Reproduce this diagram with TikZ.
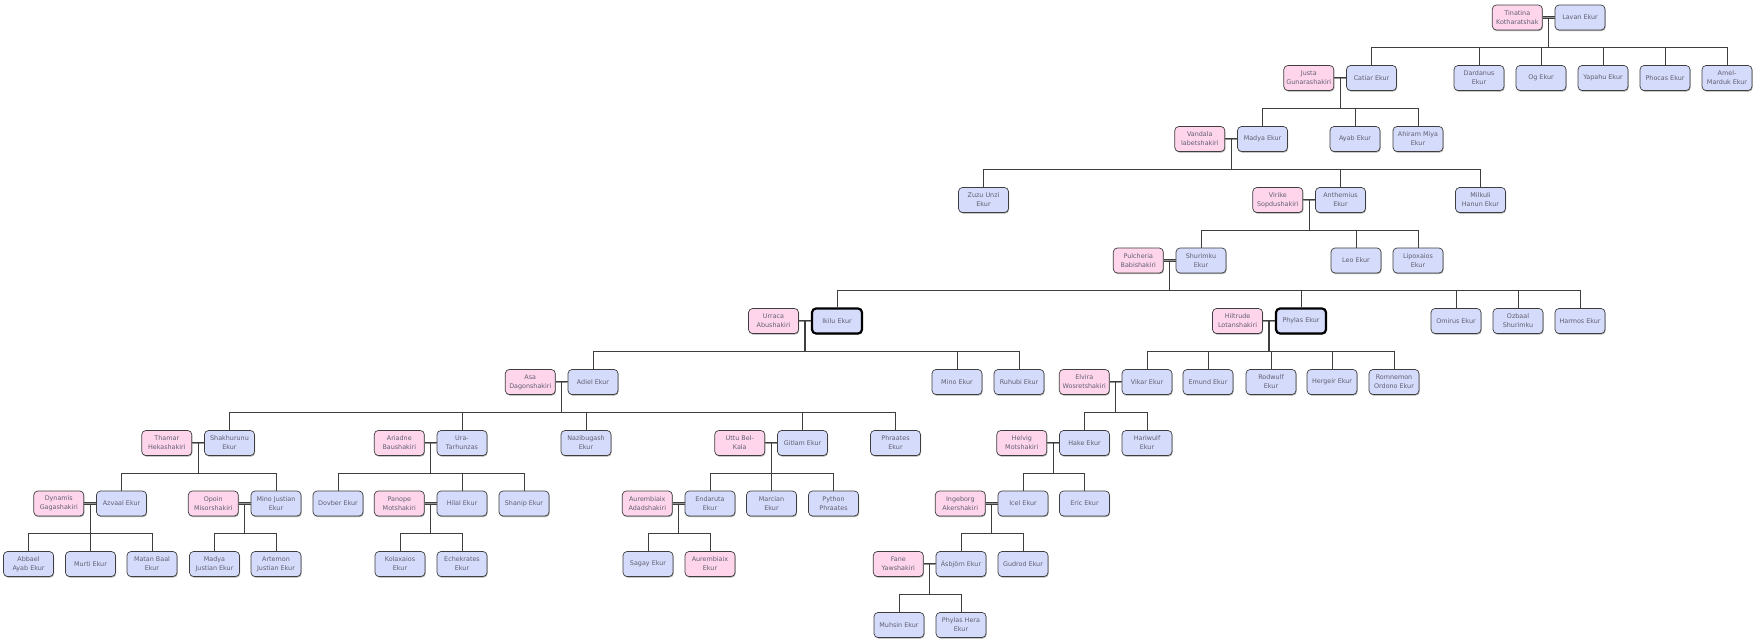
\documentclass[tikz,border=0pt]{standalone}
\usepackage{fontspec}
\setmainfont{DejaVu Sans}
\usetikzlibrary{positioning,calc,shadows}

\definecolor{ekurblue}{RGB}{213,219,250}
\definecolor{wifepink}{RGB}{255,213,236}
\definecolor{linegray}{RGB}{62,62,62}
\definecolor{namegray}{RGB}{95,95,112}

\tikzset{
  person/.style={draw=linegray, line width=0.7pt, rounded corners=4pt,
    minimum width=50pt, minimum height=25pt, inner sep=1pt, align=center,
    text=namegray, font=\fontsize{6.4}{9.2}\selectfont,
    drop shadow={shadow xshift=0.6pt, shadow yshift=-1.1pt, fill=black!65}},
  ekur/.style={person, fill=ekurblue},
  pinkbox/.style={person, fill=wifepink},
  wife/.style={pinkbox, left=12pt of #1},
  hilite/.style={ekur, draw=black, line width=2.2pt},
  wed/.style={draw=linegray, line width=0.8pt, double=linegray!55, double distance=0.9pt},
  stem/.style={draw=linegray, line width=1.3pt},
  kin/.style={draw=linegray, line width=0.9pt},
}

\begin{document}
\begin{tikzpicture}[x=1pt, y=-1pt]
    \useasboundingbox (0,0) rectangle (1760,643);
    \fill[white] (0,0) rectangle (1760,643);

    % generation 1
    \node[ekur] (lavan) at (1580,17.5) {Lavan Ekur};
    \node[wife=lavan] (tina) {Tinatina\\Kotharatshak};
    % generation 2
    \node[ekur] (catiar) at (1371.5,78) {Catiar Ekur};
    \node[wife=catiar] (justa) {Justa\\Gunarashakiri};
    \node[ekur] (dardanus) at (1479,78) {Dardanus\\Ekur};
    \node[ekur] (og) at (1541,78) {Og Ekur};
    \node[ekur] (yapahu) at (1603,78) {Yapahu Ekur};
    \node[ekur] (phocas) at (1665,78) {Phocas Ekur};
    \node[ekur] (amel) at (1727,78) {Amel-\\Marduk Ekur};
    % generation 3
    \node[ekur] (madya) at (1262.5,139) {Madya Ekur};
    \node[wife=madya] (vandala) {Vandala\\Iabetshakiri};
    \node[ekur] (ayab) at (1355,139) {Ayab Ekur};
    \node[ekur] (ahiram) at (1418,139) {Ahiram Miya\\Ekur};
    % generation 4
    \node[ekur] (zuzu) at (983.5,200) {Zuzu Unzi\\Ekur};
    \node[ekur] (anthemius) at (1340.5,200) {Anthemius\\Ekur};
    \node[wife=anthemius] (virike) {Virike\\Sopdushakiri};
    \node[ekur] (milkuli) at (1480.5,200) {Milkuli\\Hanun Ekur};
    % generation 5
    \node[ekur] (shurimku) at (1201,260.5) {Shurimku\\Ekur};
    \node[wife=shurimku] (pulcheria) {Pulcheria\\Babishakiri};
    \node[ekur] (leo) at (1356,260.5) {Leo Ekur};
    \node[ekur] (lipoxaios) at (1418,260.5) {Lipoxaios\\Ekur};
    % generation 6
    \node[hilite] (ikilu) at (837,321) {Ikilu Ekur};
    \node[wife=ikilu] (urraca) {Urraca\\Abushakiri};
    \node[hilite] (phylas) at (1301,321) {Phylas Ekur};
    \node[wife=phylas] (hiltrude) {Hiltrude\\Lotanshakiri};
    \node[ekur] (omirus) at (1456,321) {Omirus Ekur};
    \node[ekur] (ozbaal) at (1518,321) {Ozbaal\\Shurimku};
    \node[ekur] (harmos) at (1580,321) {Harmos Ekur};
    % generation 7
    \node[ekur] (adiel) at (593,382) {Adiel Ekur};
    \node[wife=adiel] (asa) {Asa\\Dagonshakiri};
    \node[ekur] (mino) at (957,382) {Mino Ekur};
    \node[ekur] (ruhubi) at (1019,382) {Ruhubi Ekur};
    \node[ekur] (vikar) at (1147,382) {Vikar Ekur};
    \node[wife=vikar] (elvira) {Elvira\\Wosretshakiri};
    \node[ekur] (emund) at (1208,382) {Emund Ekur};
    \node[ekur] (rodwulf) at (1271,382) {Rodwulf\\Ekur};
    \node[ekur] (hergeir) at (1332,382) {Hergeir Ekur};
    \node[ekur] (romnemon) at (1394,382) {Romnemon\\Ordono Ekur};
    % generation 8
    \node[ekur] (shakhurunu) at (229.5,443) {Shakhurunu\\Ekur};
    \node[wife=shakhurunu] (thamar) {Thamar\\Hekashakiri};
    \node[ekur] (ura) at (462,443) {Ura-\\Tarhunzas};
    \node[wife=ura] (ariadne) {Ariadne\\Baushakiri};
    \node[ekur] (nazibugash) at (586,443) {Nazibugash\\Ekur};
    \node[ekur] (gitlam) at (802.5,443) {Gitlam Ekur};
    \node[wife=gitlam] (uttu) {Uttu Bel-\\Kala};
    \node[ekur] (phraates) at (895.5,443) {Phraates\\Ekur};
    \node[ekur] (hake) at (1084.5,443) {Hake Ekur};
    \node[wife=hake] (helvig) {Helvig\\Motshakiri};
    \node[ekur] (hariwulf) at (1147,443) {Hariwulf\\Ekur};
    % generation 9
    \node[ekur] (azvaal) at (121.5,503.5) {Azvaal Ekur};
    \node[wife=azvaal] (dynamis) {Dynamis\\Gagashakiri};
    \node[ekur] (minojustian) at (276,503.5) {Mino Justian\\Ekur};
    \node[wife=minojustian] (opoin) {Opoin\\Misorshakiri};
    \node[ekur] (dovber) at (338,503.5) {Dovber Ekur};
    \node[ekur] (hilal) at (462,503.5) {Hilal Ekur};
    \node[wife=hilal] (panope) {Panope\\Motshakiri};
    \node[ekur] (shanip) at (524,503.5) {Shanip Ekur};
    \node[ekur] (endaruta) at (710,503.5) {Endaruta\\Ekur};
    \node[wife=endaruta] (aurembiaixa) {Aurembiaix\\Adadshakiri};
    \node[ekur] (marcian) at (771.5,503.5) {Marcian\\Ekur};
    \node[ekur] (python) at (833.5,503.5) {Python\\Phraates};
    \node[ekur] (icel) at (1023,503.5) {Icel Ekur};
    \node[wife=icel] (ingeborg) {Ingeborg\\Akershakiri};
    \node[ekur] (eric) at (1084.5,503.5) {Eric Ekur};
    % generation 10
    \node[ekur] (abbael) at (28.5,564) {Abbael\\Ayab Ekur};
    \node[ekur] (murti) at (90.5,564) {Murti Ekur};
    \node[ekur] (matan) at (152,564) {Matan Baal\\Ekur};
    \node[ekur] (madyajustian) at (214.5,564) {Madya\\Justian Ekur};
    \node[ekur] (artemon) at (276,564) {Artemon\\Justian Ekur};
    \node[ekur] (kolaxaios) at (400,564) {Kolaxaios\\Ekur};
    \node[ekur] (echekrates) at (462,564) {Echekrates\\Ekur};
    \node[ekur] (sagay) at (648,564) {Sagay Ekur};
    \node[pinkbox] (aurembiaixe) at (710,564) {Aurembiaix\\Ekur};
    \node[ekur] (asbjorn) at (961,564) {Ásbjörn Ekur};
    \node[wife=asbjorn] (fane) {Fane\\Yawshakiri};
    \node[ekur] (gudrod) at (1023,564) {Gudrod Ekur};
    % generation 11
    \node[ekur] (muhsin) at (899,625) {Muhsin Ekur};
    \node[ekur] (phylashera) at (961,625) {Phylas Hera\\Ekur};

    % marriages and children
    \foreach \w/\h/\kids in {
        tina/lavan/{catiar,dardanus,og,yapahu,phocas,amel},
        justa/catiar/{madya,ayab,ahiram},
        vandala/madya/{zuzu,anthemius,milkuli},
        virike/anthemius/{shurimku,leo,lipoxaios},
        pulcheria/shurimku/{ikilu,phylas,omirus,ozbaal,harmos},
        urraca/ikilu/{adiel,mino,ruhubi},
        hiltrude/phylas/{vikar,emund,rodwulf,hergeir,romnemon},
        asa/adiel/{shakhurunu,ura,nazibugash,gitlam,phraates},
        elvira/vikar/{hake,hariwulf},
        thamar/shakhurunu/{azvaal,minojustian},
        ariadne/ura/{dovber,hilal,shanip},
        uttu/gitlam/{endaruta,marcian,python},
        helvig/hake/{icel,eric},
        dynamis/azvaal/{abbael,murti,matan},
        opoin/minojustian/{madyajustian,artemon},
        panope/hilal/{kolaxaios,echekrates},
        aurembiaixa/endaruta/{sagay,aurembiaixe},
        ingeborg/icel/{asbjorn,gudrod},
        fane/asbjorn/{muhsin,phylashera}} {
      \draw[wed] (\w) -- (\h);
      \coordinate (wedmid) at ($(\w.east)!.5!(\h.west)$);
      \draw[stem] (wedmid) -- ++(0,30.4) coordinate (bus);
      \foreach \k in \kids \draw[kin] (bus) -| (\k.north);
    }
\end{tikzpicture}
\end{document}
